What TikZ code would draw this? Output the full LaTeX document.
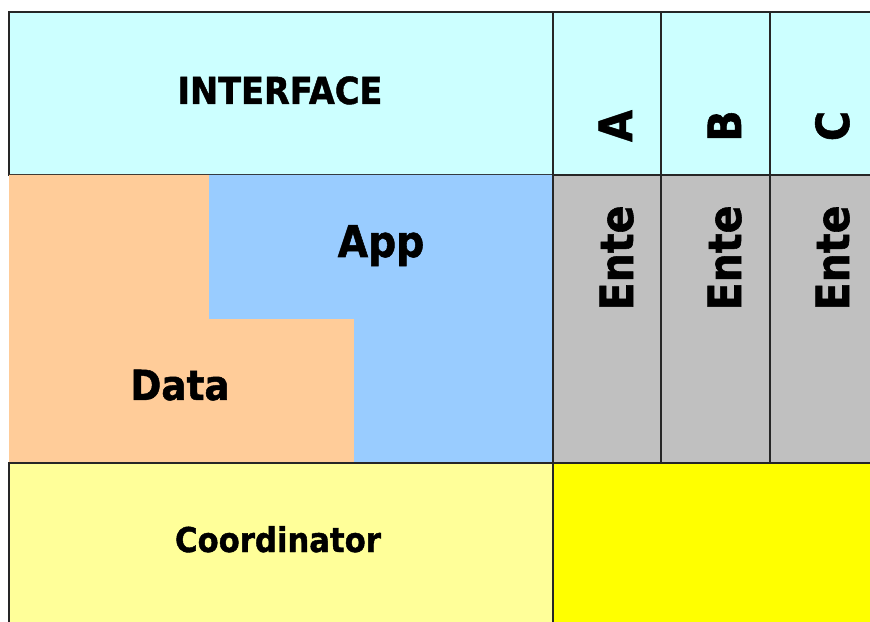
\documentclass[tikz,border=0pt]{standalone}
\usepackage{fontspec}
\usepackage{xcolor}
\usepackage{tikz}

\newfontfamily\lblfont{DejaVu Sans}[FakeStretch=0.9, BoldFeatures={FakeBold=1.2}]

\definecolor{ifacecol}{HTML}{CCFFFF}
\definecolor{datacol}{HTML}{FFCC99}
\definecolor{appcol}{HTML}{99CCFF}
\definecolor{entecol}{HTML}{C0C0C0}
\definecolor{coordcol}{HTML}{FFFF99}
\definecolor{yelcol}{HTML}{FFFF00}

\begin{document}
\begin{tikzpicture}[
  x=0.01cm, y=-0.01cm,
  cell/.style={draw=black!85, line width=0.4pt},
  lbl/.style={font=\lblfont\bfseries\fontsize{#1}{#1}\selectfont, inner sep=0pt, anchor=base},
  vlbl/.style={lbl=#1, rotate=90}
]
\useasboundingbox (0,0) rectangle (870,622);

% top row
\draw[cell, fill=ifacecol] (9,12) rectangle (553,175);
\draw[cell, fill=ifacecol] (553,12) rectangle (661,175);
\draw[cell, fill=ifacecol] (661,12) rectangle (770,175);
\draw[cell, fill=ifacecol] (770,12) rectangle (880,175);

% data / app blocks
\fill[datacol] (9,175) -- (209,175) -- (209,319) -- (354,319) -- (354,463) -- (9,463) -- cycle;
\fill[appcol] (209,175) -- (553,175) -- (553,463) -- (354,463) -- (354,319) -- (209,319) -- cycle;

% the three entities
\draw[cell, fill=entecol] (553,175) rectangle (661,463);
\draw[cell, fill=entecol] (661,175) rectangle (770,463);
\draw[cell, fill=entecol] (770,175) rectangle (880,463);

% bottom row
\draw[cell, fill=coordcol] (9,463) rectangle (553,640);
\draw[cell, fill=yelcol] (553,463) rectangle (880,640);

\node[lbl=10.6] (iface) at (280,104) {INTERFACE};
\node[lbl=12.4] (app) at (381,257) {App};
\node[lbl=11.8] (data) at (180,400) {Data};
\node[lbl=9.7] (coord) at (278,552) {Coordinator};

\node[vlbl=13] (hA) at (632,126) {A};
\node[vlbl=13] (hB) at (741,126) {B};
\node[vlbl=13] (hC) at (849,126) {C};

\node[vlbl=13] (enteA) at (633,258) {Ente};
\node[vlbl=13] (enteB) at (741,258) {Ente};
\node[vlbl=13] (enteC) at (849,258) {Ente};
\end{tikzpicture}
\end{document}
